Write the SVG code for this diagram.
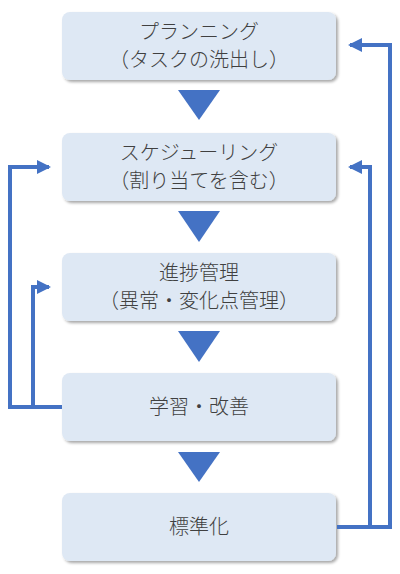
<svg xmlns="http://www.w3.org/2000/svg" width="400" height="574" viewBox="0 0 400 574">
<defs>
<filter id="sh" x="-10%" y="-10%" width="125%" height="135%">
<feGaussianBlur in="SourceAlpha" stdDeviation="1.5"/>
<feOffset dx="2" dy="2"/>
<feComponentTransfer><feFuncA type="linear" slope="0.35"/></feComponentTransfer>
<feMerge><feMergeNode/><feMergeNode in="SourceGraphic"/></feMerge>
</filter>
<marker id="ah" markerUnits="userSpaceOnUse" markerWidth="14" markerHeight="14" refX="12" refY="7" orient="auto">
<path d="M0,0 L14,7 L0,14 Z" fill="#4472c4"/>
</marker>
</defs>
<style>
.box{fill:#dee8f4;filter:url(#sh)}
.t{font-family:"Noto Sans CJK JP",sans-serif;font-size:20px;font-weight:300;fill:#404040;text-anchor:middle}
.tri{fill:#4472c4}
.ln{fill:none;stroke:#4472c4;stroke-width:4}
</style>
<rect width="400" height="574" fill="#ffffff"/>
<g id="n1"><rect class="box" x="62" y="12" width="274" height="68" rx="8"/>
<text class="t" x="199" y="39">プランニング</text><text class="t" x="199" y="67">（タスクの洗出し）</text></g>
<g id="n2"><rect class="box" x="62" y="133" width="274" height="68" rx="8"/>
<text class="t" x="199" y="160">スケジューリング</text><text class="t" x="199" y="188">（割り当てを含む）</text></g>
<g id="n3"><rect class="box" x="62" y="253" width="274" height="68" rx="8"/>
<text class="t" x="199" y="280">進捗管理</text><text class="t" x="199" y="308">（異常・変化点管理）</text></g>
<g id="n4"><rect class="box" x="62" y="373" width="274" height="68" rx="8"/>
<text class="t" x="199" y="414">学習・改善</text></g>
<g id="n5"><rect class="box" x="62" y="493" width="274" height="68" rx="8"/>
<text class="t" x="199" y="534">標準化</text></g>
<g id="flow">
<path class="tri" d="M178,90 L220,90 L199,120 Z"/>
<path class="tri" d="M178,211 L220,211 L199,242 Z"/>
<path class="tri" d="M178,331 L220,331 L199,362 Z"/>
<path class="tri" d="M178,452 L220,452 L199,482 Z"/>
</g>
<g id="connectors">
<path class="ln" d="M337,527 H390 V45 H350" marker-end="url(#ah)"/>
<path class="ln" d="M370,527 V167 H350" marker-end="url(#ah)"/>
<path class="ln" d="M62,407 H10 V167 H49" marker-end="url(#ah)"/>
<path class="ln" d="M33,407 V287 H49" marker-end="url(#ah)"/>
</g>
</svg>
